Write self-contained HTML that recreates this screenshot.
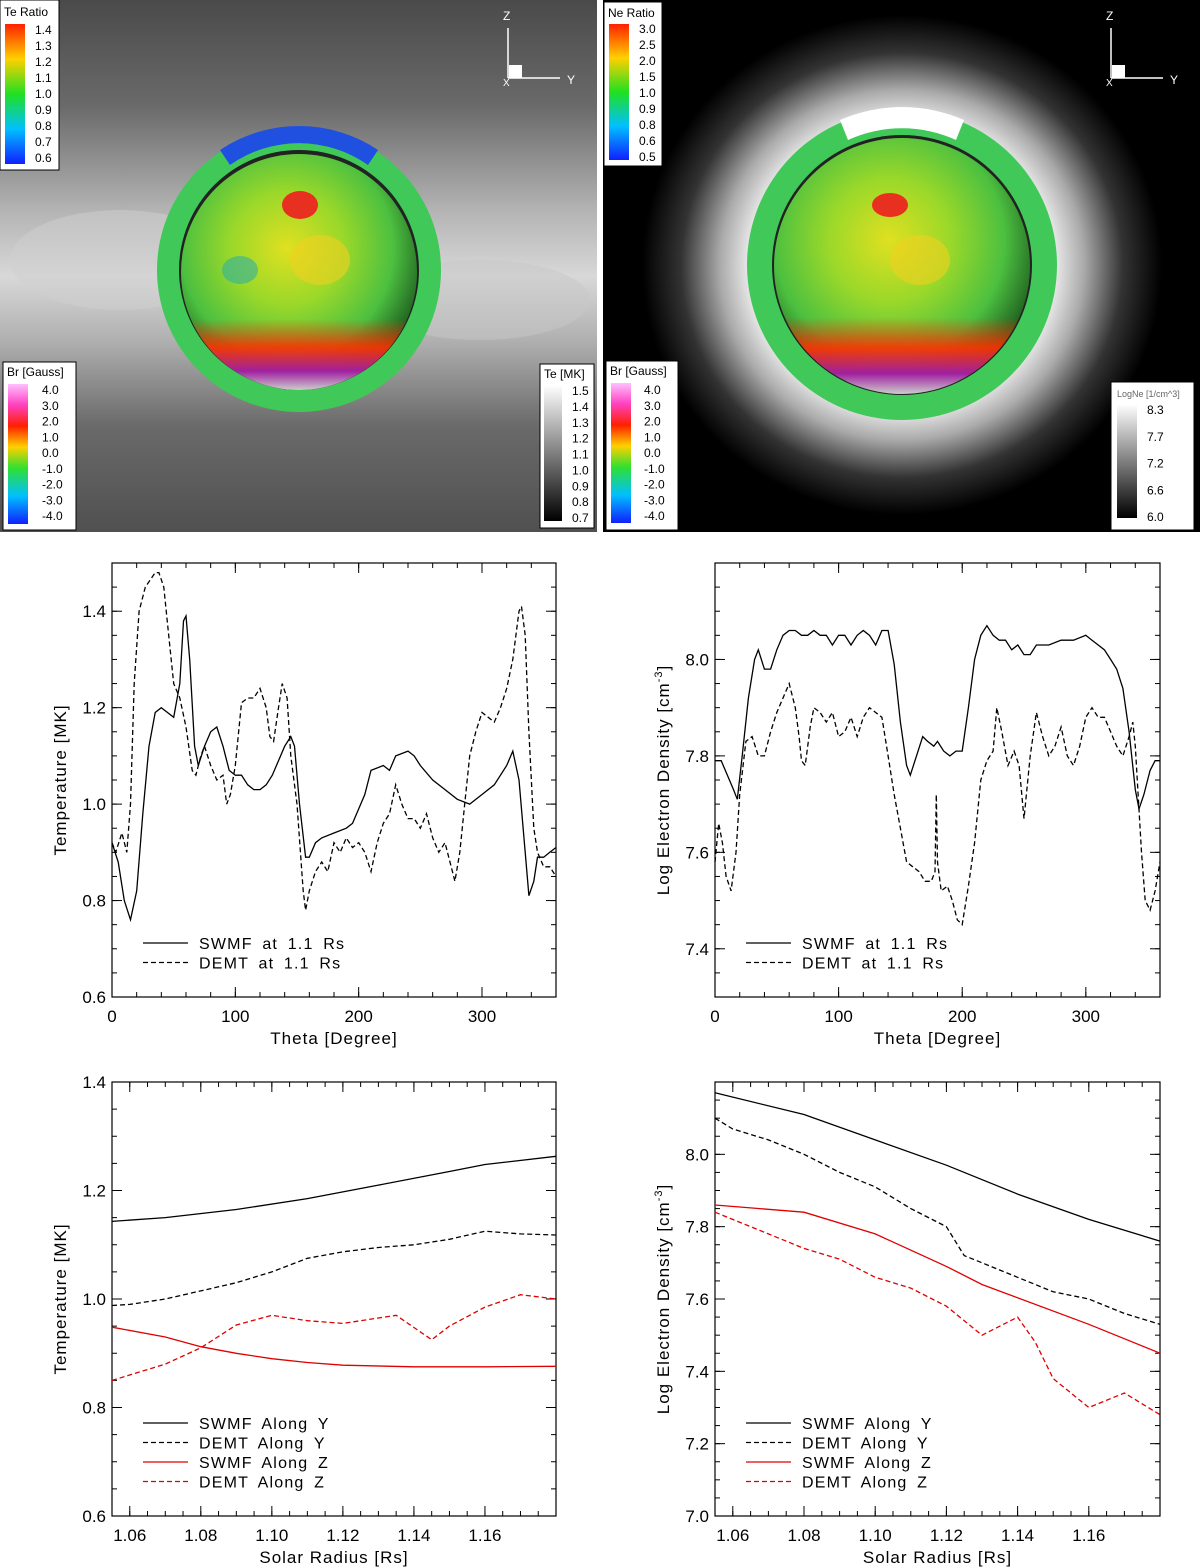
<!DOCTYPE html>
<html><head><meta charset="utf-8"><style>
html,body{margin:0;padding:0;background:#fff;}
svg{display:block;font-family:"Liberation Sans",sans-serif;}
</style></head><body>
<svg id="root" width="1200" height="1567" viewBox="0 0 1200 1567">
<defs>
<linearGradient id="bandL" x1="0" y1="0" x2="0" y2="1">
<stop offset="0" stop-color="#4a4a4a"/><stop offset="0.2" stop-color="#6a6a6a"/><stop offset="0.4" stop-color="#b5b5b5"/><stop offset="0.52" stop-color="#d8d8d8"/><stop offset="0.64" stop-color="#b0b0b0"/><stop offset="0.8" stop-color="#6a6a6a"/><stop offset="1" stop-color="#505050"/></linearGradient>
<radialGradient id="glowR" cx="0.5" cy="0.5" r="0.5"><stop offset="0.55" stop-color="#fff"/><stop offset="0.7" stop-color="#aaa"/><stop offset="0.85" stop-color="#333"/><stop offset="1" stop-color="#000"/></radialGradient>
<radialGradient id="sph" cx="0.45" cy="0.4" r="0.6"><stop offset="0" stop-color="#e0e020"/><stop offset="0.4" stop-color="#9ad82a"/><stop offset="0.75" stop-color="#4cc040"/><stop offset="1" stop-color="#206020"/></radialGradient>
<linearGradient id="rain" x1="0" y1="0" x2="0" y2="1"><stop offset="0" stop-color="#ff2000"/><stop offset="0.25" stop-color="#ffd000"/><stop offset="0.5" stop-color="#20e020"/><stop offset="0.75" stop-color="#00c0ff"/><stop offset="1" stop-color="#1020ff"/></linearGradient>
<linearGradient id="rainBr" x1="0" y1="0" x2="0" y2="1"><stop offset="0" stop-color="#ffc0ff"/><stop offset="0.15" stop-color="#ff40c0"/><stop offset="0.3" stop-color="#ff2000"/><stop offset="0.45" stop-color="#ffd000"/><stop offset="0.6" stop-color="#30e030"/><stop offset="0.8" stop-color="#00c0ff"/><stop offset="1" stop-color="#1020ff"/></linearGradient>
<linearGradient id="grayb" x1="0" y1="0" x2="0" y2="1"><stop offset="0" stop-color="#fff"/><stop offset="1" stop-color="#000"/></linearGradient>
<linearGradient id="botred" x1="0" y1="0" x2="0" y2="1"><stop offset="0.7" stop-color="#ff3000" stop-opacity="0"/><stop offset="0.82" stop-color="#ff3000" stop-opacity="0.9"/><stop offset="0.92" stop-color="#a020a0"/><stop offset="1" stop-color="#ccc"/></linearGradient>
</defs>

<!-- left image panel -->
<g>
<rect x="0" y="0" width="597" height="532" fill="url(#bandL)"/>
<ellipse cx="120" cy="260" rx="110" ry="50" fill="#cfcfcf" opacity="0.5"/>
<ellipse cx="480" cy="300" rx="110" ry="40" fill="#c8c8c8" opacity="0.5"/>
<circle cx="299" cy="270" r="142" fill="#40c858"/>
<path d="M220 150 A142 142 0 0 1 378 150 L368 165 A120 120 0 0 0 230 165Z" fill="#2050e0"/>
<circle cx="299" cy="270" r="120" fill="#222"/>
<circle cx="299" cy="272" r="118" fill="url(#sph)"/>
<circle cx="299" cy="272" r="118" fill="url(#botred)"/>
<ellipse cx="300" cy="205" rx="18" ry="14" fill="#e83020"/>
<ellipse cx="320" cy="260" rx="30" ry="25" fill="#f0d020" opacity="0.6"/>
<ellipse cx="240" cy="270" rx="18" ry="14" fill="#30b0a0" opacity="0.6"/>
<rect x="0" y="0" width="59" height="170" fill="#fff" stroke="#000"/>
<text x="4" y="16" font-size="12">Te Ratio</text>
<rect x="5" y="24" width="20" height="140" fill="url(#rain)"/>
<rect x="3" y="362" width="73" height="168" fill="#fff" stroke="#000"/>
<text x="7" y="376" font-size="12">Br [Gauss]</text>
<rect x="8" y="384" width="20" height="140" fill="url(#rainBr)"/>
<rect x="540" y="364" width="54" height="164" fill="#fff" stroke="#000"/>
<text x="544" y="378" font-size="12">Te [MK]</text>
<rect x="544" y="385" width="18" height="136" fill="url(#grayb)"/>
<g stroke="#fff" stroke-width="1.5"><line x1="508" y1="28" x2="508" y2="78"/><line x1="508" y1="78" x2="560" y2="78"/></g>
<rect x="509" y="65" width="13" height="13" fill="#fff"/>
<text x="503" y="20" font-size="12" fill="#fff">Z</text><text x="567" y="84" font-size="12" fill="#fff">Y</text><text x="503" y="86" font-size="10" fill="#fff">X</text>
</g>
<!-- right image panel -->
<g>
<rect x="603" y="0" width="597" height="532" fill="#000"/>
<ellipse cx="902" cy="265" rx="260" ry="250" fill="url(#glowR)"/>
<circle cx="902" cy="265" r="155" fill="#40c858"/>
<path d="M840 120 A155 155 0 0 1 964 120 L956 140 A130 130 0 0 0 848 140Z" fill="#fff"/>
<circle cx="902" cy="265" r="130" fill="#222"/>
<circle cx="902" cy="266" r="128" fill="url(#sph)"/>
<circle cx="902" cy="266" r="128" fill="url(#botred)"/>
<ellipse cx="890" cy="205" rx="18" ry="12" fill="#e83020"/>
<ellipse cx="920" cy="260" rx="30" ry="25" fill="#f0d020" opacity="0.6"/>
<rect x="604" y="2" width="58" height="164" fill="#fff" stroke="#000"/>
<text x="608" y="17" font-size="12">Ne Ratio</text>
<rect x="609" y="24" width="20" height="136" fill="url(#rain)"/>
<rect x="606" y="361" width="72" height="169" fill="#fff" stroke="#000"/>
<text x="610" y="375" font-size="12">Br [Gauss]</text>
<rect x="611" y="383" width="20" height="140" fill="url(#rainBr)"/>
<rect x="1111" y="382" width="83" height="148" fill="#fff" stroke="#000"/>
<text x="1117" y="397" font-size="9" fill="#666">LogNe [1/cm^3]</text>
<rect x="1117" y="404" width="20" height="114" fill="url(#grayb)"/>
<g stroke="#fff" stroke-width="1.5"><line x1="1111" y1="28" x2="1111" y2="78"/><line x1="1111" y1="78" x2="1163" y2="78"/></g>
<rect x="1112" y="65" width="13" height="13" fill="#fff"/>
<text x="1106" y="20" font-size="12" fill="#fff">Z</text><text x="1170" y="84" font-size="12" fill="#fff">Y</text><text x="1106" y="86" font-size="10" fill="#fff">X</text>
</g>
<g id="cbtext" font-size="12"></g>
<g id="plots"></g>
</svg>
<script>
// colorbar labels
const teRatioTicks=["1.4","1.3","1.2","1.1","1.0","0.9","0.8","0.7","0.6"];
const neRatioTicks=["3.0","2.5","2.0","1.5","1.0","0.9","0.8","0.6","0.5"];
const brTicks=["4.0","3.0","2.0","1.0","0.0","-1.0","-2.0","-3.0","-4.0"];
const teMKTicks=["1.5","1.4","1.3","1.2","1.1","1.0","0.9","0.8","0.7"];
const logNeTicks=["8.3","7.7","7.2","6.6","6.0"];

// middle-left: temperature vs theta
const thetaA=[0,5,10,15,20,25,30,35,40,45,50,55,58,60,63,67,70,75,80,85,90,95,100,105,110,115,120,125,130,135,140,145,148,152,157,160,165,170,180,190,195,200,205,210,220,225,230,240,245,250,260,270,280,290,300,310,320,325,330,335,338,342,345,350,355,360];
const teSwmfTheta=[0.92,0.88,0.80,0.76,0.82,0.98,1.12,1.19,1.20,1.19,1.18,1.25,1.38,1.39,1.30,1.12,1.08,1.12,1.15,1.16,1.12,1.07,1.06,1.06,1.04,1.03,1.03,1.04,1.06,1.09,1.12,1.14,1.12,1.00,0.89,0.89,0.92,0.93,0.94,0.95,0.96,0.99,1.02,1.07,1.08,1.07,1.10,1.11,1.10,1.08,1.05,1.03,1.01,1.00,1.02,1.04,1.08,1.11,1.05,0.90,0.81,0.84,0.89,0.89,0.90,0.91];
const thetaB=[0,3,8,12,15,18,22,27,35,38,42,46,50,55,60,65,68,72,75,80,85,90,93,96,100,105,110,115,120,125,128,131,135,138,142,145,150,155,157,160,165,170,175,180,185,190,195,200,205,210,215,220,225,230,235,240,245,250,255,260,265,270,275,278,282,286,290,295,300,305,310,315,320,325,330,332,335,338,342,345,350,355,360];
const teDemtTheta=[0.92,0.90,0.94,0.90,1.00,1.25,1.40,1.45,1.48,1.48,1.45,1.35,1.25,1.22,1.16,1.07,1.06,1.10,1.12,1.08,1.05,1.06,1.00,1.02,1.08,1.21,1.22,1.22,1.24,1.20,1.14,1.13,1.20,1.25,1.22,1.10,1.00,0.82,0.78,0.82,0.86,0.88,0.86,0.92,0.90,0.93,0.91,0.92,0.90,0.86,0.92,0.96,0.98,1.04,1.00,0.97,0.97,0.95,0.98,0.93,0.90,0.92,0.87,0.84,0.90,1.00,1.10,1.15,1.19,1.18,1.17,1.20,1.24,1.30,1.40,1.41,1.35,1.15,0.95,0.90,0.87,0.87,0.85];

// middle-right: density vs theta
const thetaC=[0,5,10,15,18,22,27,32,35,40,45,50,55,60,65,70,75,80,85,90,95,100,105,110,115,120,125,130,135,140,145,150,155,158,163,168,172,177,180,185,190,195,200,205,210,215,220,225,230,235,240,245,250,255,260,265,270,280,290,300,305,310,315,320,325,330,335,340,343,347,352,356,360];
const neSwmfTheta=[7.79,7.79,7.76,7.73,7.71,7.80,7.92,8.00,8.02,7.98,7.98,8.02,8.05,8.06,8.06,8.05,8.05,8.06,8.05,8.05,8.03,8.05,8.05,8.03,8.05,8.06,8.05,8.03,8.06,8.06,7.99,7.87,7.78,7.76,7.80,7.84,7.83,7.82,7.83,7.81,7.80,7.81,7.81,7.90,8.00,8.05,8.07,8.05,8.04,8.04,8.02,8.03,8.01,8.01,8.03,8.03,8.03,8.04,8.04,8.05,8.04,8.03,8.02,8.00,7.98,7.94,7.85,7.73,7.69,7.72,7.77,7.79,7.79];
const thetaD=[0,3,6,9,13,17,20,25,30,35,40,45,50,55,60,65,68,70,73,77,80,85,90,95,100,105,110,115,120,125,130,135,140,145,150,155,160,165,170,175,178,179,180,183,188,192,196,200,205,210,215,220,225,228,232,237,242,246,250,255,260,265,270,275,280,285,290,295,300,305,310,315,320,325,330,335,338,340,345,348,352,356,360];
const neDemtTheta=[7.58,7.66,7.62,7.55,7.52,7.60,7.72,7.83,7.84,7.80,7.80,7.85,7.89,7.92,7.95,7.90,7.84,7.79,7.78,7.86,7.90,7.89,7.87,7.89,7.84,7.85,7.88,7.84,7.88,7.90,7.89,7.88,7.80,7.72,7.65,7.58,7.57,7.56,7.54,7.54,7.56,7.72,7.58,7.52,7.53,7.50,7.46,7.45,7.53,7.62,7.75,7.79,7.81,7.90,7.85,7.78,7.81,7.78,7.67,7.80,7.89,7.84,7.80,7.82,7.86,7.80,7.78,7.82,7.88,7.90,7.88,7.88,7.85,7.82,7.80,7.84,7.87,7.82,7.60,7.50,7.48,7.52,7.58];

// bottom-left: temperature vs radius
const rTeSwmfY=[1.055,1.07,1.09,1.11,1.13,1.15,1.16,1.18];
const teSwmfY=[1.143,1.15,1.165,1.185,1.21,1.235,1.248,1.263];
const rTeDemtY=[1.055,1.06,1.07,1.08,1.09,1.10,1.11,1.12,1.13,1.14,1.15,1.16,1.17,1.18];
const teDemtY=[0.988,0.99,1.00,1.015,1.03,1.05,1.075,1.087,1.095,1.10,1.11,1.125,1.12,1.118];
const rTeSwmfZ=[1.055,1.07,1.08,1.09,1.10,1.11,1.12,1.14,1.16,1.18];
const teSwmfZ=[0.948,0.93,0.912,0.9,0.89,0.883,0.878,0.875,0.875,0.876];
const rTeDemtZ=[1.055,1.07,1.08,1.09,1.10,1.11,1.12,1.13,1.135,1.145,1.15,1.16,1.17,1.18];
const teDemtZ=[0.85,0.88,0.91,0.952,0.97,0.96,0.955,0.965,0.97,0.925,0.95,0.985,1.008,1.0];

// bottom-right: density vs radius
const rNeSwmfY=[1.055,1.08,1.10,1.12,1.14,1.16,1.18];
const neSwmfY=[8.17,8.11,8.04,7.97,7.89,7.82,7.76];
const rNeDemtY=[1.055,1.06,1.07,1.08,1.09,1.10,1.11,1.12,1.125,1.13,1.14,1.15,1.16,1.17,1.18];
const neDemtY=[8.10,8.07,8.04,8.00,7.95,7.91,7.85,7.80,7.72,7.70,7.66,7.62,7.60,7.56,7.53];
const rNeSwmfZ=[1.055,1.08,1.10,1.12,1.13,1.16,1.18];
const neSwmfZ=[7.86,7.84,7.78,7.69,7.64,7.53,7.45];
const rNeDemtZ=[1.055,1.07,1.08,1.09,1.10,1.11,1.12,1.13,1.14,1.145,1.15,1.16,1.17,1.18];
const neDemtZ=[7.84,7.78,7.74,7.71,7.66,7.63,7.58,7.50,7.55,7.48,7.38,7.30,7.34,7.28];

const thetaTicks=[0,100,200,300];
const teThetaTicks=[0.6,0.8,1.0,1.2,1.4];
const neThetaTicks=[7.4,7.6,7.8,8.0];
const rTicks=[1.06,1.08,1.10,1.12,1.14,1.16];
const teRTicks=[0.6,0.8,1.0,1.2,1.4];
const neRTicks=[7.0,7.2,7.4,7.6,7.8,8.0];

const NS="http://www.w3.org/2000/svg";
function mk(tag,attrs,parent){const e=document.createElementNS(NS,tag);for(const k in attrs)e.setAttribute(k,attrs[k]);parent.appendChild(e);return e;}

const cb=document.getElementById('cbtext');
function cbLabels(ticks,x,y0,y1,size){ticks.forEach((t,i)=>{const y=y0+(y1-y0)*i/(ticks.length-1);const e=mk('text',{x:x,y:y+4,'font-size':size},cb);e.textContent=t;

});}
cbLabels(teRatioTicks,35,30,158,12);
cbLabels(brTicks,42,390,516,12);
cbLabels(teMKTicks,572,391,518,12);
cbLabels(neRatioTicks,639,29,157,12);
cbLabels(brTicks,644,390,516,12);
cbLabels(logNeTicks,1147,410,517,12);

const plots=document.getElementById('plots');
function plot(cfg){
  const g=mk('g',{},plots);
  
  
  const X=v=>cfg.x0+(v-cfg.xmin)/(cfg.xmax-cfg.xmin)*(cfg.x1-cfg.x0);
  const Y=v=>cfg.y1-(v-cfg.ymin)/(cfg.ymax-cfg.ymin)*(cfg.y1-cfg.y0);
  const fr=mk('rect',{x:cfg.x0,y:cfg.y0,width:cfg.x1-cfg.x0,height:cfg.y1-cfg.y0,fill:'none',stroke:'#000','stroke-width':1.2},g);
  
  
  cfg.xticks.forEach(t=>{const x=X(t);
    mk('line',{x1:x,x2:x,y1:cfg.y1,y2:cfg.y1-10,stroke:'#000'},g);
    mk('line',{x1:x,x2:x,y1:cfg.y0,y2:cfg.y0+10,stroke:'#000'},g);
    const tx=mk('text',{x:x,y:cfg.y1+25,'font-size':17,'text-anchor':'middle'},g);tx.textContent=cfg.xfmt(t);
    
    
  });
  for(let v=cfg.xmin;v<=cfg.xmax+1e-9;v+=cfg.xminor){const x=X(v);
    mk('line',{x1:x,x2:x,y1:cfg.y1,y2:cfg.y1-5,stroke:'#000'},g);
    mk('line',{x1:x,x2:x,y1:cfg.y0,y2:cfg.y0+5,stroke:'#000'},g);}
  cfg.yticks.forEach(t=>{const y=Y(t);
    mk('line',{x1:cfg.x0,x2:cfg.x0+10,y1:y,y2:y,stroke:'#000'},g);
    mk('line',{x1:cfg.x1,x2:cfg.x1-10,y1:y,y2:y,stroke:'#000'},g);
    const tx=mk('text',{x:cfg.x0-6,y:y+6,'font-size':17,'text-anchor':'end'},g);tx.textContent=t.toFixed(1);
    
    
  });
  for(let v=cfg.ymin;v<=cfg.ymax+1e-9;v+=cfg.yminor){const y=Y(v);
    mk('line',{x1:cfg.x0,x2:cfg.x0+5,y1:y,y2:y,stroke:'#000'},g);
    mk('line',{x1:cfg.x1,x2:cfg.x1-5,y1:y,y2:y,stroke:'#000'},g);}
  const xt=mk('text',{x:(cfg.x0+cfg.x1)/2,y:cfg.y1+47,'font-size':17,'text-anchor':'middle','letter-spacing':'1'},g);xt.textContent=cfg.xtitle;
  
  
  const yc=(cfg.y0+cfg.y1)/2;
  const yt=mk('text',{x:cfg.x0-46,y:yc,'font-size':17,'text-anchor':'middle','letter-spacing':'1',transform:`rotate(-90 ${cfg.x0-46} ${yc})`},g);yt.innerHTML=cfg.ytitle;
  
  
  cfg.series.forEach((s,i)=>{
    const d=s.x.map((v,j)=>(j?'L':'M')+X(v).toFixed(1)+' '+Y(s.y[j]).toFixed(1)).join(' ');
    const p=mk('path',{d:d,fill:'none',stroke:s.color,'stroke-width':1.3,'stroke-dasharray':s.dash?'5,3':'none'},g);
    
    
    const ly=cfg.legY+i*19.5;
    const lg=mk('g',{},g);
    
    
    mk('line',{x1:cfg.x0+31,x2:cfg.x0+76,y1:ly,y2:ly,stroke:s.color,'stroke-width':1.3,'stroke-dasharray':s.dash?'5,3':'none'},lg);
    const lt=mk('text',{x:cfg.x0+87,y:ly+6,'font-size':16,'letter-spacing':'1.2','word-spacing':'4'},lg);lt.textContent=s.label;
  });
}
const dens='Log Electron Density [cm<tspan font-size="11" dy="-7">-3</tspan><tspan dy="7">]</tspan>';
plot({name:'temperature-theta-plot',x0:112,x1:556,y0:563,y1:997,xmin:0,xmax:360,ymin:0.6,ymax:1.5,xticks:thetaTicks,xminor:20,yticks:teThetaTicks,yminor:0.05,xfmt:v=>String(v),xtitle:'Theta [Degree]',ytitle:'Temperature [MK]',legY:943,
 series:[{id:'swmf-1.1rs',x:thetaA,y:teSwmfTheta,color:'#000',dash:false,label:'SWMF at 1.1 Rs'},{id:'demt-1.1rs',x:thetaB,y:teDemtTheta,color:'#000',dash:true,label:'DEMT at 1.1 Rs'}]});
plot({name:'density-theta-plot',x0:715,x1:1160,y0:563,y1:997,xmin:0,xmax:360,ymin:7.3,ymax:8.2,xticks:thetaTicks,xminor:20,yticks:neThetaTicks,yminor:0.05,xfmt:v=>String(v),xtitle:'Theta [Degree]',ytitle:dens,legY:943,
 series:[{id:'swmf-1.1rs',x:thetaC,y:neSwmfTheta,color:'#000',dash:false,label:'SWMF at 1.1 Rs'},{id:'demt-1.1rs',x:thetaD,y:neDemtTheta,color:'#000',dash:true,label:'DEMT at 1.1 Rs'}]});
plot({name:'temperature-radius-plot',x0:112,x1:556,y0:1082,y1:1516,xmin:1.055,xmax:1.18,ymin:0.6,ymax:1.4,xticks:rTicks,xminor:0.005,yticks:teRTicks,yminor:0.05,xfmt:v=>v.toFixed(2),xtitle:'Solar Radius [Rs]',ytitle:'Temperature [MK]',legY:1423,
 series:[{id:'swmf-along-y',x:rTeSwmfY,y:teSwmfY,color:'#000',dash:false,label:'SWMF Along Y'},{id:'demt-along-y',x:rTeDemtY,y:teDemtY,color:'#000',dash:true,label:'DEMT Along Y'},{id:'swmf-along-z',x:rTeSwmfZ,y:teSwmfZ,color:'#e00000',dash:false,label:'SWMF Along Z'},{id:'demt-along-z',x:rTeDemtZ,y:teDemtZ,color:'#e00000',dash:true,label:'DEMT Along Z'}]});
plot({name:'density-radius-plot',x0:715,x1:1160,y0:1082,y1:1516,xmin:1.055,xmax:1.18,ymin:7.0,ymax:8.2,xticks:rTicks,xminor:0.005,yticks:neRTicks,yminor:0.05,xfmt:v=>v.toFixed(2),xtitle:'Solar Radius [Rs]',ytitle:dens,legY:1423,
 series:[{id:'swmf-along-y',x:rNeSwmfY,y:neSwmfY,color:'#000',dash:false,label:'SWMF Along Y'},{id:'demt-along-y',x:rNeDemtY,y:neDemtY,color:'#000',dash:true,label:'DEMT Along Y'},{id:'swmf-along-z',x:rNeSwmfZ,y:neSwmfZ,color:'#e00000',dash:false,label:'SWMF Along Z'},{id:'demt-along-z',x:rNeDemtZ,y:neDemtZ,color:'#e00000',dash:true,label:'DEMT Along Z'}]});
</script>
</body></html>
